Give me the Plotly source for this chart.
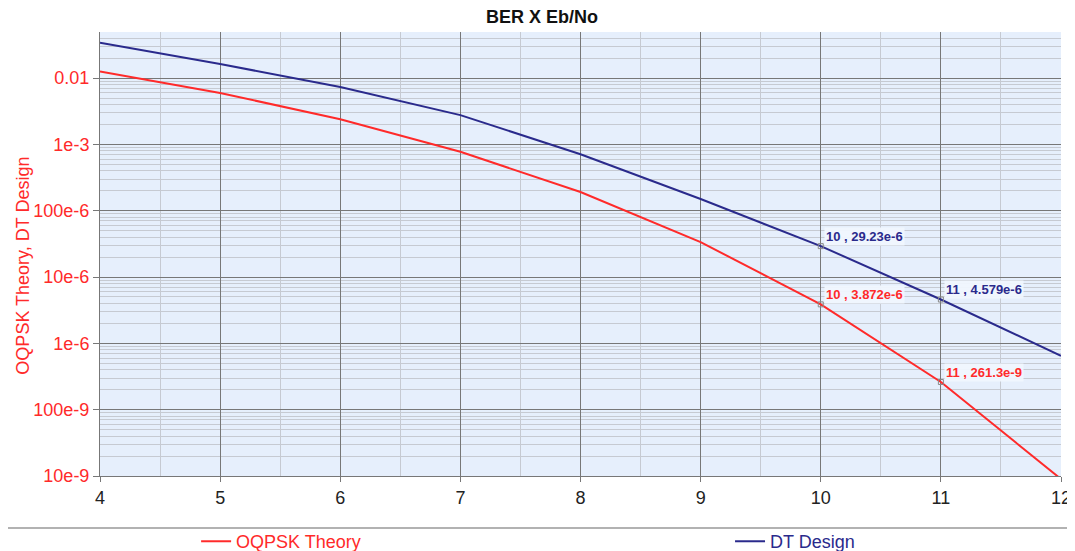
import math
import plotly.graph_objects as go

# Data
ebno = [4, 5, 6, 7, 8, 9, 10, 11, 12]
oqpsk_theory = [0.0125, 0.00595, 0.00239, 7.73e-4, 1.91e-4, 3.36e-5, 3.872e-6, 261.3e-9, 9.0e-9]
dt_design = [0.034, 0.0163, 0.0073, 0.00276, 7.1e-4, 1.5e-4, 29.23e-6, 4.579e-6, 6.5e-7]

ytick_vals = [1e-2, 1e-3, 1e-4, 1e-5, 1e-6, 1e-7, 1e-8]
ytick_text = ["0.01", "1e-3", "100e-6", "10e-6", "1e-6", "100e-9", "10e-9"]
xtick_vals = [4, 5, 6, 7, 8, 9, 10, 11, 12]

# annotated points (index into the arrays)
red_labels_idx = [6, 7]
blue_labels_idx = [6, 7]
red_label_text = ["10 , 3.872e-6", "11 , 261.3e-9"]
blue_label_text = ["10 , 29.23e-6", "11 , 4.579e-6"]

RED = "#FF2A2A"
NAVY = "#2A2A8C"
FONT = "Liberation Sans, Arial, sans-serif"
LBL_BG = "rgba(240,246,254,0.95)"

fig = go.Figure()
fig.add_trace(go.Scatter(x=ebno, y=oqpsk_theory, mode="lines",
                         name="<span style='color:%s'>OQPSK Theory</span>" % RED,
                         line=dict(color=RED, width=2), legend="legend"))
fig.add_trace(go.Scatter(x=ebno, y=dt_design, mode="lines",
                         name="<span style='color:%s'>DT Design</span>" % NAVY,
                         line=dict(color=NAVY, width=2), legend="legend2"))

# small markers at the labelled points
fig.add_trace(go.Scatter(x=[ebno[i] for i in red_labels_idx] + [ebno[i] for i in blue_labels_idx],
                         y=[oqpsk_theory[i] for i in red_labels_idx] + [dt_design[i] for i in blue_labels_idx],
                         mode="markers", showlegend=False, hoverinfo="skip",
                         marker=dict(symbol="square-open", size=5, color="#8a8a8a", line=dict(width=1))))

for i, t in zip(red_labels_idx, red_label_text):
    fig.add_annotation(x=ebno[i], y=math.log10(oqpsk_theory[i]), yref="y", xref="x", text="<b>%s</b>" % t,
                       showarrow=False, xanchor="left", yanchor="middle", xshift=3, yshift=10,
                       font=dict(color=RED, size=13, family=FONT),
                       bgcolor=LBL_BG, borderpad=1)
for i, t in zip(blue_labels_idx, blue_label_text):
    fig.add_annotation(x=ebno[i], y=math.log10(dt_design[i]), yref="y", xref="x", text="<b>%s</b>" % t,
                       showarrow=False, xanchor="left", yanchor="middle", xshift=3, yshift=10,
                       font=dict(color=NAVY, size=13, family=FONT),
                       bgcolor=LBL_BG, borderpad=1)

# y-axis title as a rotated annotation
fig.add_annotation(x=-0.0805, y=0.473, xref="paper", yref="paper", text="OQPSK Theory, DT Design",
                   textangle=-90, showarrow=False, xanchor="center", yanchor="middle",
                   font=dict(color=RED, size=18, family=FONT))

fig.update_layout(
    width=1067, height=543,
    margin=dict(l=92, r=14, t=24, b=75, autoexpand=False),
    paper_bgcolor="white",
    plot_bgcolor="#E6EFFC",
    font=dict(family=FONT),
    title=dict(text="<b>BER X Eb/No</b>", x=0.46, xref="paper", xanchor="center",
               y=1 - 9 / 543, yanchor="middle",
               font=dict(size=18, color="#111111", family=FONT)),
    showlegend=True,
    legend=dict(orientation="h", x=0.1, xanchor="left", y=-0.106, yanchor="top",
                font=dict(size=18, family=FONT), bgcolor="rgba(0,0,0,0)"),
    legend2=dict(orientation="h", x=0.6556, xanchor="left", y=-0.106, yanchor="top",
                 font=dict(size=18, family=FONT), bgcolor="rgba(0,0,0,0)"),
)

fig.update_xaxes(range=[4, 12], tickvals=xtick_vals, showgrid=True, gridcolor="#777777", gridwidth=1,
                 zeroline=False, ticks="outside", ticklen=5, tickcolor="#777777", automargin=False,
                 tickfont=dict(size=18, color="#222222", family=FONT),
                 showline=True, linecolor="#777777", linewidth=1,
                 minor=dict(dtick=0.5, showgrid=True, gridcolor="#c6cad2", gridwidth=1, ticks=""))
fig.update_yaxes(type="log", range=[-8, -1.306], tickvals=ytick_vals, ticktext=ytick_text,
                 showgrid=True, gridcolor="#777777", gridwidth=1, zeroline=False, automargin=False,
                 ticks="outside", ticklen=6, tickcolor="#777777",
                 tickfont=dict(size=18, color=RED, family=FONT),
                 showline=True, linecolor="#777777", linewidth=1,
                 minor=dict(dtick="D1", showgrid=True, gridcolor="#c6cad2", gridwidth=1, ticks=""))

# separator line above the legend
fig.add_shape(type="line", xref="paper", yref="paper", x0=-0.099, x1=1.02, y0=-0.117, y1=-0.117,
              line=dict(color="#999999", width=1.5))

fig.write_html("out.html")
